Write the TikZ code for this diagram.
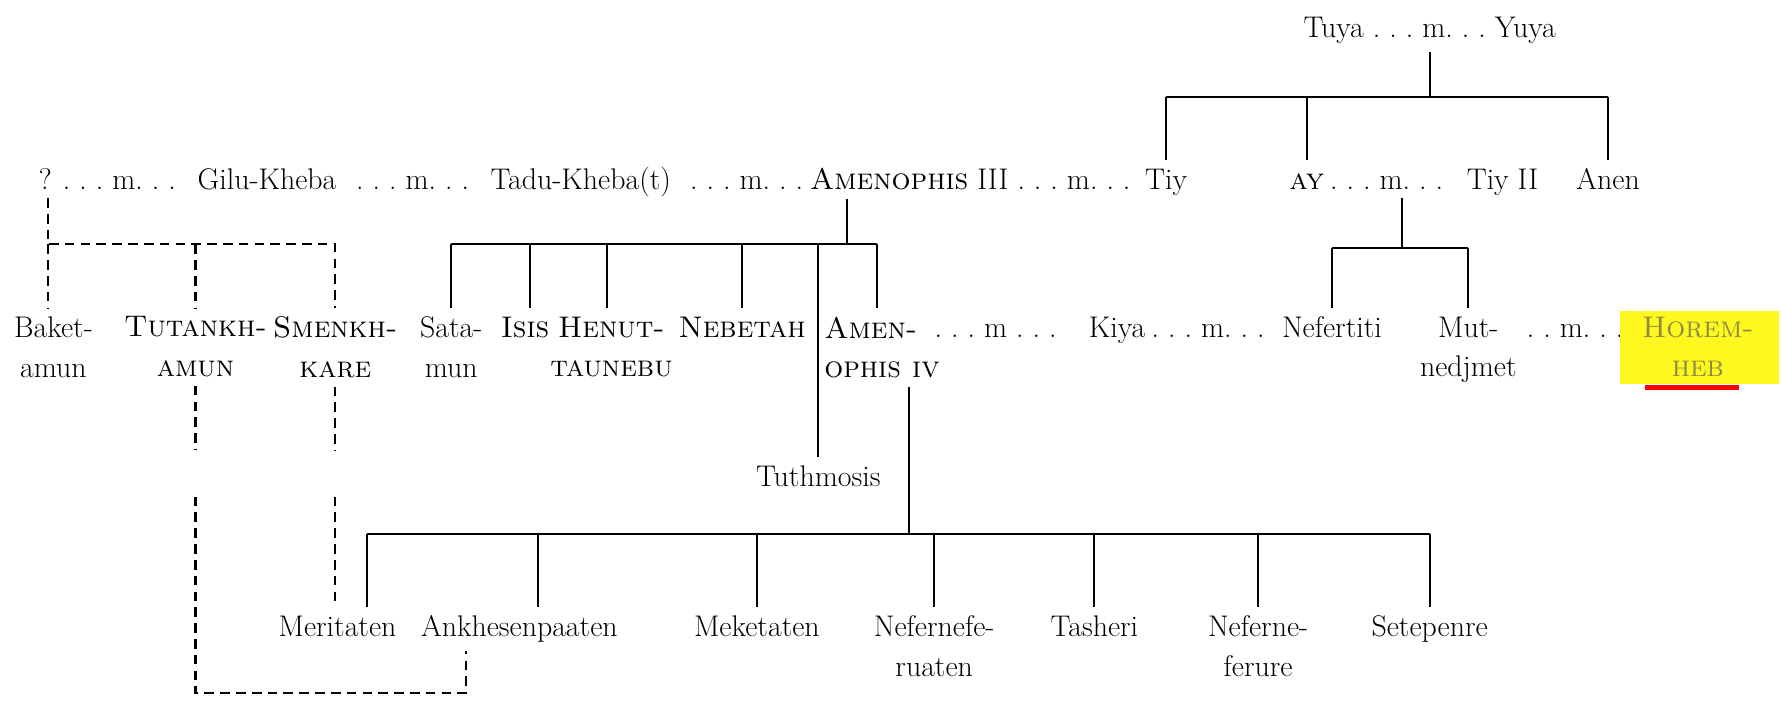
\documentclass[tikz,border=0pt]{standalone}
\newcommand{\wed}{.\ .\ .\ m.\ .\ .}
\definecolor{hilite}{RGB}{255,248,30}
\definecolor{faded}{RGB}{140,138,70}
\begin{document}
\begin{tikzpicture}[x=0.02273cm, y=-0.02273cm,
    pers/.style={anchor=north, inner sep=2pt, outer sep=3pt, align=center,
      font=\fontsize{17}{22.5}\selectfont},
    solo/.style={pers, text height=11.6pt},
    kin/.style={line width=1.2pt},
    guess/.style={line width=1.2pt, dash pattern=on 5.5pt off 3.5pt}]
\useasboundingbox (0,0) rectangle (1568,620);

% Tuya and Yuya
\node[solo] (tuya) at (1258,7) {Tuya \wed\ Yuya};

% second row
\node[solo] (q) at (40,141) {?};
\node[solo] (w1) at (105,141) {\wed};
\node[solo] (gilu) at (235,141) {Gilu-Kheba};
\node[solo] (w2) at (363,141) {\wed};
\node[solo] (tadu) at (511,141) {Tadu-Kheba(t)};
\node[solo] (w3) at (657,141) {\wed};
\node[solo] (amen3) at (800,141) {\textsc{Amenophis} III};
\node[solo] (w4) at (945,141) {\wed};
\node[solo] (tiy) at (1026,141) {Tiy};
\node[solo] (ay) at (1150,141) {\textsc{ay}};
\node[solo] (w5) at (1220,141) {\wed};
\node[solo] (tiy2) at (1322,141) {Tiy II};
\node[solo] (anen) at (1415,141) {Anen};

% third row
\node[pers] (baket) at (47,271) {Baket-\\amun};
\node[pers] (tut) at (172,271) {\textsc{Tutankh-}\\\textsc{amun}};
\node[pers] (smen) at (295,271) {\textsc{Smenkh-}\\\textsc{kare}};
\node[pers] (sata) at (397,271) {Sata-\\mun};
\node[solo] (isis) at (462,271) {\textsc{Isis}};
\node[pers] (henut) at (538,271) {\textsc{Henut-}\\\textsc{taunebu}};
\node[solo] (nebetah) at (653,271) {\textsc{Nebetah}};
\node[pers, align=left] (amen4) at (776,271) {\textsc{Amen-}\\\textsc{ophis iv}};
\node[solo] (w6) at (876,271) {.\ .\ .\ m\ .\ .\ .};
\node[solo] (kiya) at (983,271) {Kiya};
\node[solo] (w7) at (1063,271) {\wed};
\node[solo] (nefertiti) at (1172,271) {Nefertiti};
\node[pers] (mut) at (1292,271) {Mut-\\nedjmet};
\node[solo] (w8) at (1386,271) {.\ .\ m.\ .\ .};
\fill[hilite] (1425,274) rectangle (1565,338);
\node[pers, text=faded] (horem) at (1494,271) {\textsc{Horem-}\\\textsc{heb}};
\draw[red, line width=2.4pt] (1447,341) -- (1530,341);

% Tuthmosis and the daughters
\node[solo] (tuth) at (720,402) {Tuthmosis};
\node[solo] (merit) at (297,534) {Meritaten};
\node[solo] (ankh) at (457,534) {Ankhesenpaaten};
\node[solo] (meket) at (666,534) {Meketaten};
\node[pers] (nefer) at (822,534) {Nefernefe-\\ruaten};
\node[solo] (tash) at (963,534) {Tasheri};
\node[pers] (neferne) at (1107,534) {Neferne-\\ferure};
\node[solo] (setep) at (1258,534) {Setepenre};

% children of Tuya and Yuya
\coordinate (tb) at (1258,85);
\draw[kin] (tuya.south) -- (tb);
\draw[kin] (tiy |- tb) -- (anen |- tb);
\foreach \n in {tiy,ay,anen}
  \draw[kin] (\n |- tb) -- (\n.north);

% children of Amenophis III
\coordinate (ab) at (745,215);
\draw[kin] (amen3.south -| ab) -- (ab);
\draw[kin] (sata |- ab) -- (772,215);
\foreach \x/\n in {397/sata,466/isis,534/henut,653/nebetah,720/tuth,772/amen4}
  \draw[kin] (\x,215) -- (\x,215 |- \n.north);

% children of Ay
\coordinate (yb) at (1234,218);
\draw[kin] (yb |- w5.south) -- (yb);
\draw[kin] (nefertiti |- yb) -- (mut |- yb);
\foreach \n in {nefertiti,mut}
  \draw[kin] (\n |- yb) -- (\n.north);

% children of Amenophis IV
\coordinate (cb) at (800,470);
\draw[kin] (amen4.south -| cb) -- (cb);
\draw[kin] (323,470) -- (setep |- cb);
\foreach \x/\n in {323/merit,473/ankh,666/meket,822/nefer,963/tash,1107/neferne,1258/setep}
  \draw[kin] (\x,470) -- (\x,470 |- \n.north);

% uncertain lines
\coordinate (qb) at (42,215);
\coordinate (gtop) at (0,396);
\coordinate (gbot) at (0,437);
\coordinate (low) at (410,610);
\draw[guess] (qb |- q.south) -- (qb) -- (smen |- qb) -- (smen.north);
\draw[guess] (qb) -- (qb |- baket.north);
\draw[guess] (tut |- qb) -- (tut.north);
\draw[guess] (smen.south) -- (smen |- gtop);
\draw[guess] (smen |- gbot) -- (smen |- merit.north);
\draw[guess] (tut.south) -- (tut |- gtop);
\draw[guess] (tut |- gbot) -- (tut |- low) -- (low) -- (low |- ankh.south);
\end{tikzpicture}
\end{document}
